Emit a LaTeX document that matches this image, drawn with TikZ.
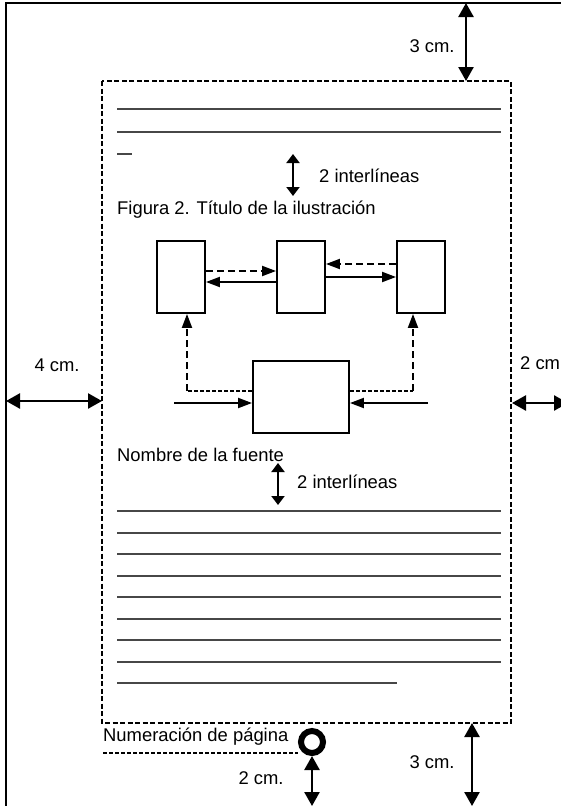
\documentclass[tikz,border=0pt]{standalone}
\usepackage{fontspec}
\setmainfont{Liberation Sans}
\usepackage{tikz}
\usetikzlibrary{positioning,arrows.meta,calc}

\begin{document}
\begin{tikzpicture}[
  x=1pt, y=-1pt,
  font=\fontsize{18.4}{22}\selectfont,
  hoja/.style={line width=2.6pt},
  margen/.style={line width=1.6pt, dash pattern=on 5pt off 2.5pt},
  renglon/.style={line width=1.2pt, draw=black!72},
  caja/.style={draw, line width=1.9pt, minimum width=48pt, minimum height=72pt,
               inner sep=0pt},
  flecha/.style={line width=2pt, -{Triangle[length=14pt,width=10pt]}},
  guion/.style={flecha, dash pattern=on 7pt off 4pt},
  punteado/.style={line width=1.5pt, dash pattern=on 4pt off 2pt},
  cota/.style={line width=2.5pt,
               {Triangle[length=14pt,width=15pt]}-{Triangle[length=14pt,width=15pt]}},
  interlinea/.style={line width=2pt,
               {Triangle[length=9pt,width=13pt]}-{Triangle[length=9pt,width=13pt]}},
  rotulo/.style={anchor=west, inner sep=0pt},
]
\useasboundingbox (0,0) rectangle (560,806);
% --- Hoja y margenes ---------------------------------------------------------
\draw[hoja] (6,810) -- (6,3) -- (566,3);
\draw[margen] (102,81) rectangle (511,723);
\coordinate (supA) at (466,3);
\coordinate (supB) at (466,81);
\coordinate (izqA) at (6,401);
\coordinate (izqB) at (102,401);
\coordinate (derA) at (512,403);
\coordinate (derB) at (568,403);
\coordinate (infA) at (472,723);
\coordinate (infB) at (472,806);
\draw[cota] (supA) -- (supB);
\draw[cota] (izqA) -- (izqB);
\draw[cota] (derA) -- (derB);
\draw[cota] (infA) -- (infB);
\node (cotasup) at (432,46) {3 cm.};
\node (cotaizq) at (57,365) {4 cm.};
\node[rotulo] (cotader) at (520,363) {2 cm};
\node (cotainf) at (432,762) {3 cm.};
% --- Texto antes de la figura ------------------------------------------------
\foreach \y in {109,132}
  \draw[renglon] (117,\y) -- (501,\y);
\draw[renglon] (117,154) -- (132,154);
\coordinate (intA) at (293,154);
\coordinate (intB) at (293,196);
\draw[interlinea] (intA) -- (intB);
\node[rotulo] (inter1) at (319,176) {2 interlíneas};
\node[rotulo] (titulo) at (117,210) {Figura 2. Título de la ilustración};
% --- Ilustracion ---------------------------------------------------------------
\node[caja] (caja1) at (181,277) {};
\node[caja] (caja2) at (301,277) {};
\node[caja] (caja3) at (421,277) {};
\node[caja, minimum width=96pt] (caja4) at (301,397) {};
\coordinate (fila1) at (0,271);
\coordinate (fila2) at (0,282);
\coordinate (fila3) at (0,264);
\coordinate (fila4) at (0,277);
\draw[guion] (caja1.east |- fila1) -- (caja2.west |- fila1);
\draw[flecha] (caja2.west |- fila2) -- (caja1.east |- fila2);
\draw[guion] (caja3.west |- fila3) -- (caja2.east |- fila3);
\draw[flecha] (caja2.east |- fila4) -- (caja3.west |- fila4);
\coordinate (codoI) at (187,391);
\coordinate (codoD) at (413,391);
\draw[punteado] (caja4.west |- codoI) -- (codoI);
\draw[punteado] (caja4.east |- codoD) -- (codoD);
\draw[guion] (codoI) -- (codoI |- caja1.south);
\draw[guion] (codoD) -- (codoD |- caja3.south);
\coordinate (entI) at (174,403);
\coordinate (entD) at (428,403);
\draw[flecha] (entI) -- (entI -| caja4.west);
\draw[flecha] (entD) -- (entD -| caja4.east);
% --- Fuente y texto siguiente --------------------------------------------------
\node[rotulo] (fuente) at (117,455) {Nombre de la fuente};
\coordinate (intC) at (278,463);
\coordinate (intD) at (278,505);
\draw[interlinea] (intC) -- (intD);
\node[rotulo] (inter2) at (297,482) {2 interlíneas};
\foreach \y in {511,533,554,576,597,619,640,662}
  \draw[renglon] (117,\y) -- (501,\y);
\draw[renglon] (117,683) -- (397,683);
% --- Numeracion de pagina ------------------------------------------------------
\node[rotulo] (numera) at (103,737) {Numeración de página};
\node[circle, draw, line width=6pt, minimum size=22pt, inner sep=0pt]
  (numpag) at (312,742) {};
\coordinate (pie) at (103,753);
\draw[punteado] (pie) -- (numpag.west |- pie);
\coordinate (fondo) at (numpag.south |- infB);
\draw[cota] (numpag.south) -- (fondo);
\node (cotapie) at (261,778) {2 cm.};
\end{tikzpicture}
\end{document}
